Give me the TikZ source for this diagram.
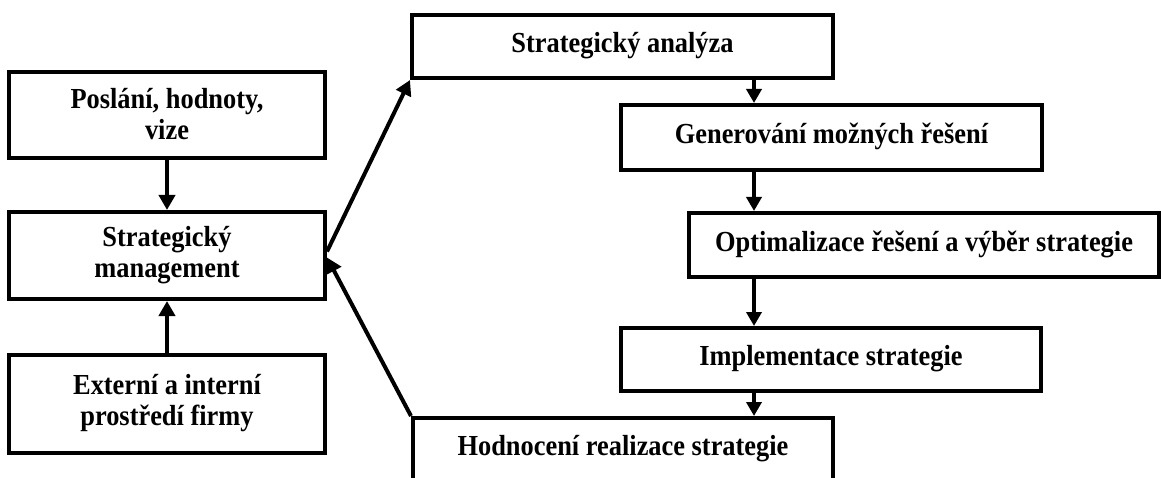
\documentclass[tikz,border=0pt]{standalone}
\usepackage{fontspec}
\setmainfont{Liberation Serif}
\usetikzlibrary{arrows.meta}
% box labels: bold, slightly tall lettering, lines centred
\newcommand\boxtext[1]{\scalebox{1}[1.1]{\begin{tabular}{@{}c@{}}#1\end{tabular}}}
% the same, set a little lower inside its box
\newcommand\lowboxtext[1]{\raisebox{-3pt}[\dimexpr\height+3pt\relax][\dimexpr\depth+3pt\relax]{\boxtext{#1}}}
\begin{document}
\begin{tikzpicture}[x=1pt,y=-1pt,
  box/.style={draw, line width=4pt, fill=white, inner sep=0pt, align=center,
    font=\fontsize{26.4}{28.5}\selectfont\bfseries},
  arr/.style={line width=4pt, -{Triangle[length=15pt,width=16pt]}},
  arrs/.style={line width=4pt, -{Triangle[length=14pt,width=15pt]}}]
  \fill[white] (0,0) rectangle (1161,478);
  \useasboundingbox (0,0) rectangle (1161,478);

  % left column
  \node[box, minimum width=316pt, minimum height=86pt] (pos) at (167,115)
    {\lowboxtext{Poslání, hodnoty,\\vize}};
  \node[box, minimum width=316pt, minimum height=87pt] (sm) at (167,255.5)
    {\boxtext{Strategický\\management}};
  \node[box, minimum width=316pt, minimum height=98pt] (ext) at (167,404)
    {\boxtext{Externí a interní\\prostředí firmy}};

  % process chain
  \node[box, minimum width=421pt, minimum height=63pt] (sa) at (622.5,46.5)
    {\boxtext{Strategický analýza}};
  \node[box, minimum width=421pt, minimum height=65pt] (gen) at (831.5,137.5)
    {\boxtext{Generování možných řešení}};
  \node[box, minimum width=470pt, minimum height=64pt] (opt) at (924,245)
    {\boxtext{Optimalizace řešení a výběr strategie}};
  \node[box, minimum width=420pt, minimum height=63pt] (impl) at (831,359.5)
    {\boxtext{Implementace strategie}};
  \node[box, minimum width=420pt, minimum height=63pt] (hod) at (623,449.5)
    {\boxtext{Hodnocení realizace strategie}};

  \coordinate (chain) at (754,0);

  % connectors
  \draw[arr] (pos.south) -- (sm.north);
  \draw[arr] (ext.north) -- (sm.south);
  \draw[arr] ([yshift=4pt]sm.east) -- (sa.south west);
  \draw[arr] (hod.north west) -- ([yshift=-2pt]sm.east);
  \draw[arrs] (chain |- sa.south) -- (chain |- gen.north);
  \draw[arrs] (chain |- gen.south) -- (chain |- opt.north);
  \draw[arrs] (chain |- opt.south) -- (chain |- impl.north);
  \draw[arrs] (chain |- impl.south) -- (chain |- hod.north);
\end{tikzpicture}
\end{document}
